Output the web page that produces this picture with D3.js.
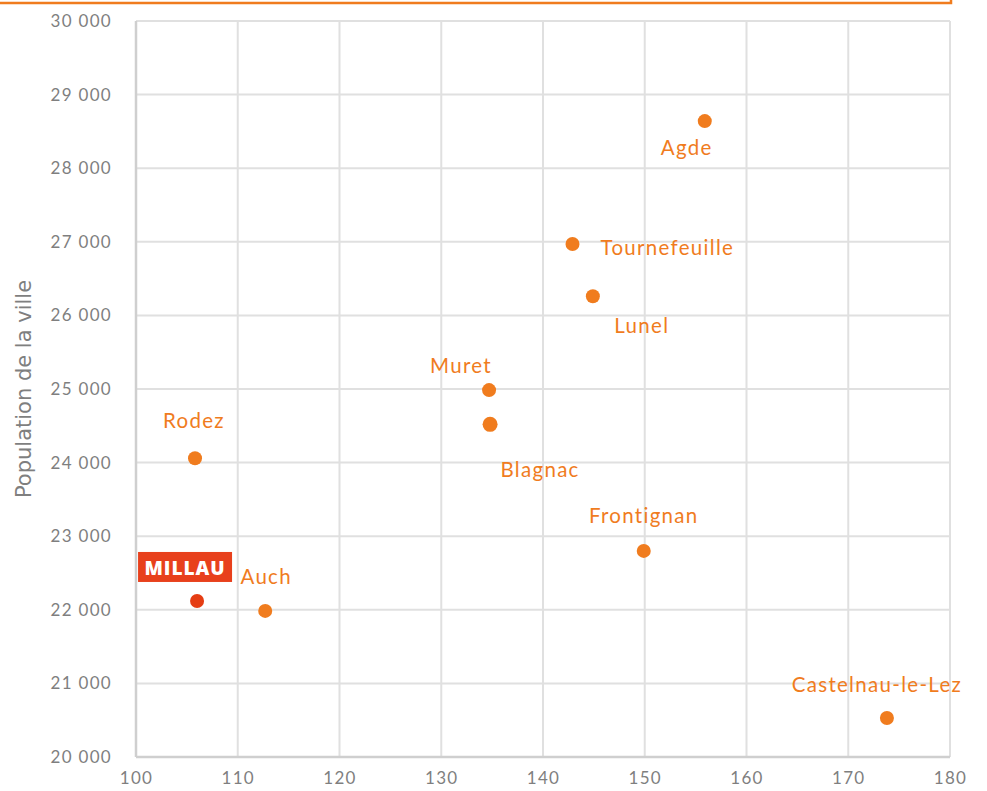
<!DOCTYPE html>
<html>
<head>
<meta charset="utf-8">
<script src="https://cdn.jsdelivr.net/npm/d3@7"></script>
<style>
  body { margin: 0; background: #fff; }
  svg { display: block; }
</style>
</head>
<body>
<div id="chart"></div>
<script>
// Villes comparees a Millau
const villes = ["Agde", "Tournefeuille", "Lunel", "Muret", "Blagnac", "Rodez", "Frontignan", "Auch", "Castelnau-le-Lez", "MILLAU"];
const indice = [155.9, 142.9, 144.9, 134.7, 134.8, 105.8, 149.9, 112.7, 173.8, 106.0];
const population = [28640, 26970, 26260, 24985, 24520, 24060, 22800, 21985, 20530, 22120];
const xTicks = [100, 110, 120, 130, 140, 150, 160, 170, 180];
const yTicks = [20000, 21000, 22000, 23000, 24000, 25000, 26000, 27000, 28000, 29000, 30000];

// label placement relative to the dot
const labelOffset = [[-18, 26], [28, 3], [49, 29], [-28, -25], [50, 45], [-1, -38], [0, -36], [1, -35], [-10, -34], [-12, -34]];
const labelAnchor = ["middle", "start", "middle", "middle", "middle", "middle", "middle", "middle", "middle", "middle"];

const width = 987, height = 791;
const orange = "#f07c1e", red = "#e53d13";

const svg = d3.select("#chart").append("svg")
  .attr("width", width)
  .attr("height", height);

// orange frame edge at top
svg.append("path")
  .attr("d", "M0,3 H951 V0")
  .style("fill", "none")
  .style("stroke", orange)
  .style("stroke-width", 2.5);

const x = d3.scaleLinear().domain([100, 180]).range([136, 950]);
const y = d3.scaleLinear().domain([20000, 30000]).range([757, 21]);

const fr = d3.formatLocale({ decimal: ",", thousands: " ", grouping: [3], currency: ["", " €"] });
const fmt = fr.format(",d");

// grid
svg.append("g")
  .selectAll("line")
  .data(xTicks)
  .join("line")
  .attr("x1", d => x(d)).attr("x2", d => x(d))
  .attr("y1", y(30000)).attr("y2", y(20000))
  .style("stroke", "#e0e0e0")
  .style("stroke-width", 2);

svg.append("g")
  .selectAll("line")
  .data(yTicks)
  .join("line")
  .attr("x1", x(100)).attr("x2", x(180))
  .attr("y1", d => y(d)).attr("y2", d => y(d))
  .style("stroke", "#e0e0e0")
  .style("stroke-width", 2);

// axis lines
svg.append("line")
  .attr("x1", x(100)).attr("x2", x(100))
  .attr("y1", y(30000)).attr("y2", y(20000))
  .style("stroke", "#cfcfcf").style("stroke-width", 2.5);
svg.append("line")
  .attr("x1", x(100)).attr("x2", x(180))
  .attr("y1", y(20000)).attr("y2", y(20000))
  .style("stroke", "#cfcfcf").style("stroke-width", 2.5);

// axes (tick labels only)
const xAxis = svg.append("g")
  .attr("transform", `translate(0,${y(20000)})`)
  .call(d3.axisBottom(x).tickValues(xTicks).tickSize(0).tickPadding(15).tickFormat(d3.format("d")));
const yAxis = svg.append("g")
  .attr("transform", `translate(${x(100)},0)`)
  .call(d3.axisLeft(y).tickValues(yTicks).tickSize(0).tickPadding(24).tickFormat(fmt));

[xAxis, yAxis].forEach(a => {
  a.select(".domain").remove();
  a.selectAll("text")
    .style("font-family", "Lato, 'DejaVu Sans', sans-serif")
    .style("font-size", "17px")
    .style("letter-spacing", "1.3px")
    .style("fill", "#7f7f7f");
});

// y title
svg.append("text")
  .attr("transform", `translate(24,${(y(20000) + y(30000)) / 2}) rotate(-90)`)
  .attr("text-anchor", "middle")
  .attr("dominant-baseline", "central")
  .style("font-family", "'DejaVu Sans', sans-serif")
  .style("font-size", "21px")
  .style("fill", "#7f7f7f")
  .text("Population de la ville");

const pts = villes.map((v, i) => ({ name: v, x: indice[i], y: population[i], off: labelOffset[i], anchor: labelAnchor[i] }));

// dots
svg.append("g")
  .selectAll("circle")
  .data(pts)
  .join("circle")
  .attr("cx", d => x(d.x))
  .attr("cy", d => y(d.y))
  .attr("r", d => d.name === "Blagnac" ? 7.5 : 7)
  .style("fill", d => d.name === "MILLAU" ? red : orange);

// labels
const others = pts.filter(d => d.name !== "MILLAU");
svg.append("g")
  .selectAll("text")
  .data(others)
  .join("text")
  .attr("x", d => x(d.x) + d.off[0])
  .attr("y", d => y(d.y) + d.off[1])
  .attr("text-anchor", d => d.anchor)
  .attr("dominant-baseline", "central")
  .style("font-family", "Lato, 'DejaVu Sans', sans-serif")
  .style("font-size", "20.5px")
  .style("letter-spacing", "1.3px")
  .style("fill", orange)
  .text(d => d.name);

// Millau highlighted label
const m = pts.find(d => d.name === "MILLAU");
const mx = x(m.x) + m.off[0], my = y(m.y) + m.off[1];
svg.append("rect")
  .attr("x", mx - 47).attr("y", my - 15)
  .attr("width", 94).attr("height", 30)
  .style("fill", "#e8401c");
svg.append("text")
  .attr("x", mx).attr("y", my + 1)
  .attr("text-anchor", "middle")
  .attr("dominant-baseline", "central")
  .style("font-family", "'Open Sans', 'DejaVu Sans', sans-serif")
  .style("font-weight", "800")
  .style("font-size", "19px")
  .style("letter-spacing", "1px")
  .style("fill", "#fff")
  .text(m.name);
</script>
</body>
</html>
